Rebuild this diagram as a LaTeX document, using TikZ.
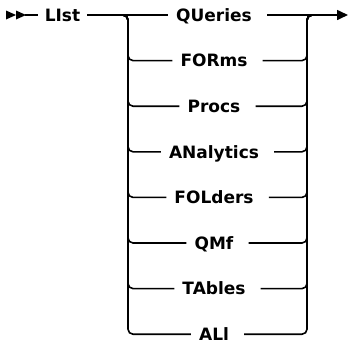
\documentclass[tikz,border=0pt]{standalone}
\usepackage{fontspec}
\setmainfont{DejaVu Sans}
\usetikzlibrary{arrows.meta}
\begin{document}
\begin{tikzpicture}[x=1pt,y=-1pt,
  rail/.style={line width=1.6pt, rounded corners=5pt},
  kw/.style={inner sep=0pt, text height=12.4pt, text depth=0pt, font=\fontsize{17}{20}\selectfont\bfseries}]
\useasboundingbox (0,0) rectangle (350,343);
% start marker
\fill (6,10.5) -- (16,15) -- (6,19.5) -- cycle;
\fill (16,10.5) -- (26,15) -- (16,19.5) -- cycle;
\coordinate (s) at (25,15);
\node[kw] (list) at (62.5,15) {LIst};
\draw[rail] (s) -- ([xshift=-7pt]list.west);
% junctions
\coordinate (L) at (128,15);
\coordinate (R) at (307,15);
\coordinate (end) at (348,15);
% keywords
\node[kw] (k1) at (214,15) {QUeries};
\node[kw] (k2) at (214,60.6) {FORms};
\node[kw] (k3) at (214,106.2) {Procs};
\node[kw] (k4) at (214,151.8) {ANalytics};
\node[kw] (k5) at (214,197.4) {FOLders};
\node[kw] (k6) at (214,243) {QMf};
\node[kw] (k7) at (214,288.6) {TAbles};
\node[kw] (k8) at (214,334.2) {ALl};
% main line
\draw[rail] ([xshift=7pt]list.east) -- ([xshift=-8pt]k1.west);
\draw[rail,-{Triangle[length=11pt,width=10pt]}] ([xshift=15pt]k1.east) -- (end);
% branches
\foreach \k in {2,...,8}{
  \draw[rail] ([xshift=-8pt]L) -- (L) |- ([xshift=-8pt]k\k.west);
  \draw[rail] ([xshift=15pt]k\k.east) -| (R) -- ([xshift=8pt]R);
}
\end{tikzpicture}
\end{document}
